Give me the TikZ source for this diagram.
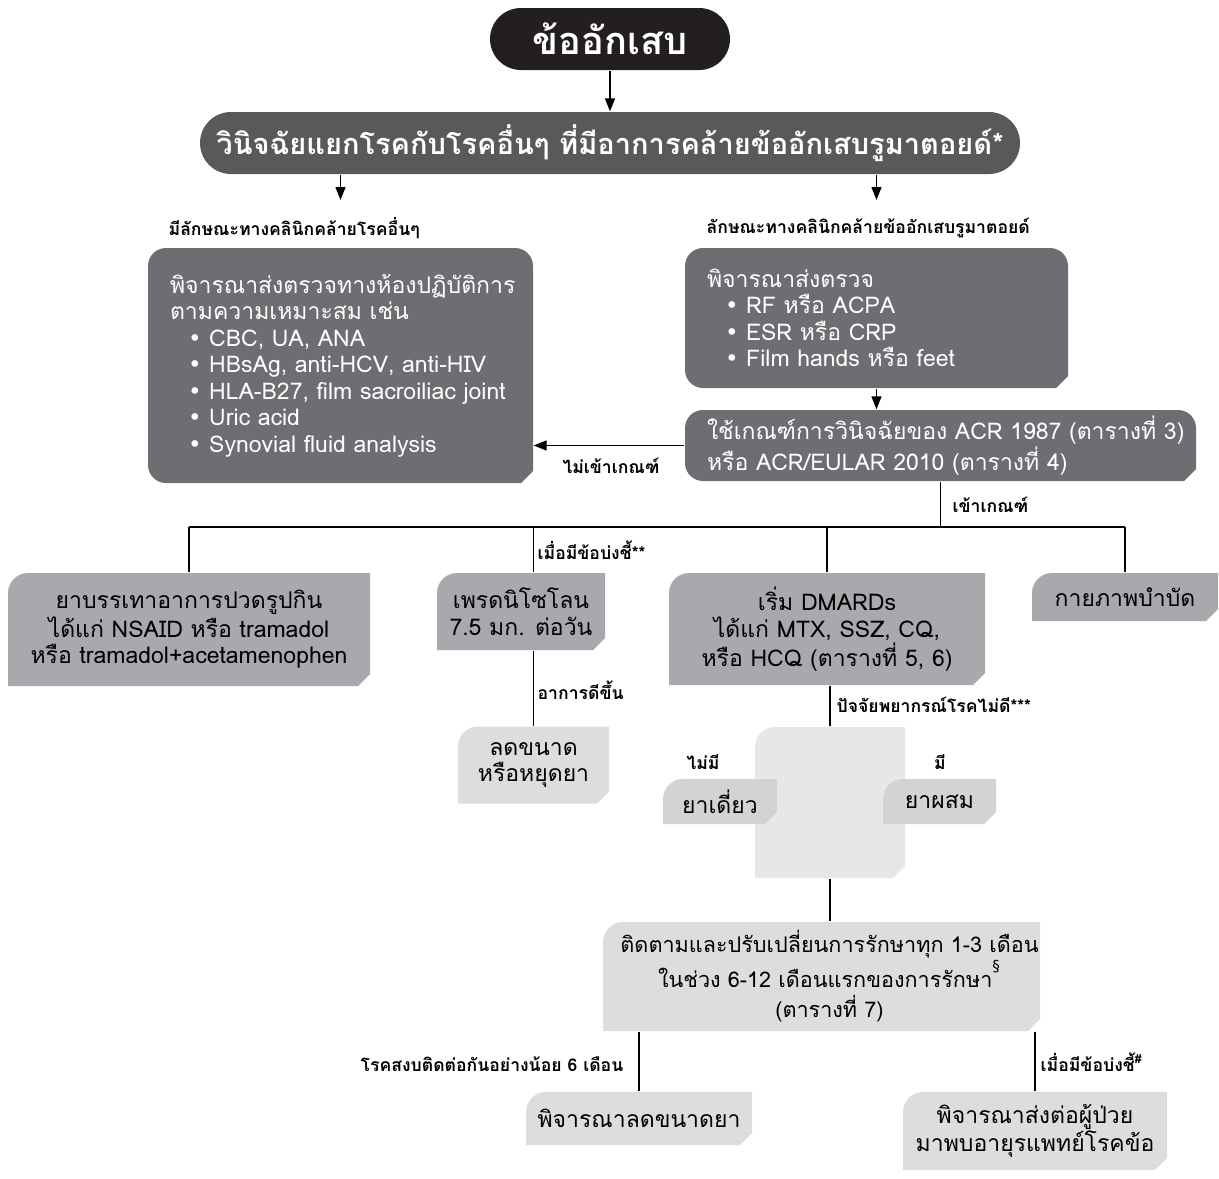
\documentclass[tikz,border=0pt]{standalone}
\usepackage{fontspec}
\setmainfont[Script=Thai]{Loma}
\newfontfamily\dejavu{DejaVu Sans}
\usetikzlibrary{arrows.meta}
\definecolor{inkblack}{HTML}{231F20}
\definecolor{pillgray}{HTML}{58595B}
\definecolor{boxdark}{HTML}{6D6E71}
\definecolor{boxmid}{HTML}{A7A9AC}
\definecolor{boxpale}{HTML}{D1D3D4}
\definecolor{boxlight}{HTML}{DCDDDE}
\definecolor{boxfaint}{HTML}{E6E7E8}
\newcommand{\bul}{\hspace*{9pt}{\dejavu •}\ }
\begin{document}
\begin{tikzpicture}
[x=0.5pt,y=-0.5pt,line width=0.65pt,%
  arrowline/.style={-{Triangle[length=6.5pt,width=5pt]}},%
  lbl/.style={font=\fontsize{8.8}{10}\selectfont\bfseries,inner sep=0pt},%
  pill/.style={rounded corners=15.5pt,text=white,inner sep=0pt,minimum height=31pt},%
  darkbox/.style={font=\fontsize{11.5}{13.25}\selectfont,text=white,align=left,inner xsep=11pt,inner ysep=0pt,
    path picture={\fill[boxdark] ([xshift=9pt]path picture bounding box.south west)
      -- ([xshift=-6pt]path picture bounding box.south east)
      -- ([yshift=6pt]path picture bounding box.south east)
      -- ([yshift=-9pt]path picture bounding box.north east) arc[start angle=0,end angle=90,radius=9pt]
      -- ([xshift=9pt]path picture bounding box.north west) arc[start angle=90,end angle=180,radius=9pt]
      -- ([yshift=9pt]path picture bounding box.south west) arc[start angle=180,end angle=270,radius=9pt]
      -- cycle;}},%
  tabbox/.style={font=\fontsize{11.5}{13.25}\selectfont,align=center,inner sep=0pt,
    path picture={\fill[#1] (path picture bounding box.south west)
      -- ([yshift=-10pt]path picture bounding box.north west) arc[start angle=180,end angle=90,radius=10pt]
      -- (path picture bounding box.north east)
      -- ([yshift=6pt]path picture bounding box.south east)
      -- ([xshift=-6pt]path picture bounding box.south east) -- cycle;}}]
\useasboundingbox (0,0) rectangle (1219,1178);
%% top of the chart
\node[pill,fill=inkblack,minimum width=120pt,font=\fontsize{19}{22}\selectfont\bfseries] (arthritis) at (610,39) {ข้ออักเสบ};
\node[pill,fill=pillgray,minimum width=410pt,font=\fontsize{14.5}{17}\selectfont\bfseries] (diffdx) at (610,143)
  {วินิจฉัยแยกโรคกับโรคอื่นๆ ที่มีอาการคล้ายข้ออักเสบรูมาตอยด์*};
%% investigation boxes
\node[darkbox,text width=170.5pt,minimum height=117.5pt] (labs) at (340.5,365.5)
  {พิจารณาส่งตรวจทางห้องปฏิบัติการ\\
   ตามความเหมาะสม เช่น\\
   \bul CBC, UA, ANA\\
   \bul HBsAg, anti-HCV, anti-HIV\\
   \mbox{\bul HLA-B27, film sacroiliac joint}\\
   \bul Uric acid\\
   \bul Synovial fluid analysis};
\node[darkbox,text width=169.5pt,minimum height=70pt] (rftests) at (876.5,318)
  {พิจารณาส่งตรวจ\\
   \bul RF หรือ ACPA\\
   \bul ESR หรือ CRP\\
   \bul Film hands หรือ feet};
\node[darkbox,text width=233.5pt,minimum height=35.5pt] (criteria) at (940.5,445.5)
  {\mbox{ใช้เกณฑ์การวินิจฉัยของ ACR 1987 (ตารางที่ 3)}\\
   \mbox{หรือ ACR/EULAR 2010 (ตารางที่ 4)}};
%% treatment boxes
\node[tabbox=boxmid,minimum width=181pt,minimum height=56.5pt] (painrx) at (189,629.5)
  {ยาบรรเทาอาการปวดรูปกิน\\ ได้แก่ NSAID หรือ tramadol\\ หรือ tramadol+acetamenophen};
\node[tabbox=boxmid,minimum width=84pt,minimum height=38.5pt] (pred) at (521,611.5)
  {เพรดนิโซโลน\\ 7.5 มก. ต่อวัน};
\node[tabbox=boxmid,minimum width=158pt,minimum height=56pt] (dmards) at (827,629)
  {เริ่ม DMARDs\\ ได้แก่ MTX, SSZ, CQ,\\ หรือ HCQ (ตารางที่ 5, 6)};
\node[tabbox=boxmid,minimum width=93pt,minimum height=24pt] (physio) at (1125,597) {กายภาพบำบัด};
\node[tabbox=boxlight,minimum width=75.5pt,minimum height=38.5pt] (reduce) at (533.5,765)
  {ลดขนาด\\ หรือหยุดยา};
\node[tabbox=boxfaint,minimum width=75pt,minimum height=75.5pt] (square) at (830,802.5) {};
\node[tabbox=boxpale,minimum width=57pt,minimum height=22.5pt] (mono) at (720,801.5) {ยาเดี่ยว};
\node[tabbox=boxpale,minimum width=56.5pt,minimum height=22.5pt] (combo) at (939.5,801.5) {ยาผสม};
\node[tabbox=boxlight,minimum width=218.5pt,minimum height=54.5pt,font=\fontsize{10.8}{15}\selectfont] (followup) at (821.5,976.5)
  {\hspace*{8pt}ติดตามและปรับเปลี่ยนการรักษาทุก 1-3 เดือน\\
   \hspace*{8pt}ในช่วง 6-12 เดือนแรกของการรักษา\raisebox{4pt}{\textsuperscript{\dejavu §}}\\
   \hspace*{8pt}(ตารางที่ 7)};
\node[tabbox=boxlight,minimum width=113pt,minimum height=26.5pt] (taper) at (639,1118.5) {พิจารณาลดขนาดยา};
\node[tabbox=boxlight,minimum width=132pt,minimum height=39pt] (refer) at (1035,1131)
  {พิจารณาส่งต่อผู้ป่วย\\ มาพบอายุรแพทย์โรคข้อ};
%% branch labels
\foreach \lname/\x/\y/\side/\ltext in {
  other/168/228/west/มีลักษณะทางคลินิกคล้ายโรคอื่นๆ,
  ra/706/228/west/ลักษณะทางคลินิกคล้ายข้ออักเสบรูมาตอยด์,
  notmet/611/466/center/ไม่เข้าเกณฑ์, met/952/505/west/เข้าเกณฑ์,
  indic/537/550/west/เมื่อมีข้อบ่งชี้**, better/537/690/west/อาการดีขึ้น,
  poor/836/705/west/ปัจจัยพยากรณ์โรคไม่ดี***,
  none/703/762/center/ไม่มี, have/940/762/center/มี,
  remit/624/1064/east/โรคสงบติดต่อกันอย่างน้อย 6 เดือน,
  referind/1040/1062/west/เมื่อมีข้อบ่งชี้\textsuperscript{\#}}
{
  \node[lbl,anchor=\side] (\lname) at (\x,\y) {\ltext};
}
%% connectors
\path[arrowline] (arthritis) edge (diffdx);
\draw[arrowline] (diffdx.south -| labs.north) -- (labs.north |- 0,200);
\draw[arrowline] (diffdx.south -| rftests.north) -- (rftests.north |- 0,200);
\draw[arrowline] (rftests.south) -- (rftests.south |- criteria.north);
\draw[arrowline] (criteria.west) -- (criteria.west -| labs.east);
\coordinate (split) at (criteria.south |- 0,527);
\draw (criteria.south) -- (split);
\draw (painrx.north |- split) -- (physio.north |- split);
\foreach \target in {painrx,dmards,physio}
  \draw (\target.north |- split) -- (\target.north);
\draw (reduce.north |- split) -- (reduce.north |- pred.north);
\draw (reduce.north |- pred.south) -- (reduce.north);
\draw (square.north |- dmards.south) -- (square.north);
\draw (square.south) -- (square.south |- followup.north);
\draw (taper.north |- followup.south) -- (taper.north);
\draw (refer.north |- followup.south) -- (refer.north);
\end{tikzpicture}
\end{document}
